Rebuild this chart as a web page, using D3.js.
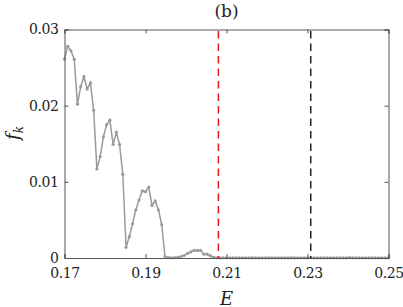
<!DOCTYPE html>
<html>
<head>
<meta charset="utf-8">
<script src="https://cdn.jsdelivr.net/npm/d3@7"></script>
<style>
	body { margin: 0; background: #fff; }
</style>
</head>
<body>
<div id="chart"></div>
<script>

// E grid (101 points, step 0.0008)
var E_start = 0.17, E_step = 0.0008;

// f_k values
var fk = [
	0.0261, 0.0278, 0.0272, 0.0261, 0.0202, 0.0225, 0.0238, 0.0222, 0.0230, 0.0194,
	0.0117, 0.0133, 0.0159, 0.0175, 0.0181, 0.0149, 0.0165, 0.0149, 0.0110, 0.0014,
	0.0028, 0.0045, 0.0063, 0.0076, 0.0088, 0.0087, 0.0093, 0.0069, 0.0075, 0.0063,
	0.0044, 0.0002, 0.00005, 0.00003, 0.00005, 0.0001, 0.0002, 0.00035, 0.0006, 0.0008,
	0.0010, 0.0010, 0.0010, 0.0005, 0.0005, 0.0003, 0.0001, 0.00003, 0.00002, 0.00003,
	0.00002, 0.00003, 0.00002, 0.00002, 0.00003, 0.00002, 0.00003, 0.00002, 0.00002, 0.00003,
	0.00002, 0.00002, 0.00003, 0.00002, 0.00002, 0.00003, 0.00002, 0.00002, 0.00003, 0.00002,
	0.00004, 0.00002, 0.00002, 0.00003, 0.00002, 0.00002, 0.00003, 0.00002, 0.00002, 0.00003,
	0.00002, 0.00002, 0.00003, 0.00002, 0.00002, 0.00003, 0.00002, 0.00002, 0.00005, 0.00003,
	0.00002, 0.00002, 0.00003, 0.00002, 0.00002, 0.00003, 0.00002, 0.00002, 0.00003, 0.00002,
	0.00002
];

// dashed markers
var vlines = [
	{ E: 0.2080, color: "#e8191c" },
	{ E: 0.2308, color: "#222222" }
];

var xTicks = [0.17, 0.19, 0.21, 0.23, 0.25];
var yTicks = [0, 0.01, 0.02, 0.03];
var yTickLabels = ["0", "0.01", "0.02", "0.03"];

var data = fk.map(function(v, i) { return { E: E_start + i * E_step, f: v }; });

var serif = "'DejaVu Serif', serif";

// chart options
var width = 403, height = 307,
	margin = { top: 29.5, left: 64.5, bottom: 49, right: 14.5 };

var x = d3.scaleLinear().domain([0.17, 0.25]).range([margin.left, width - margin.right]);
var y = d3.scaleLinear().domain([0, 0.03]).range([height - margin.bottom, margin.top]);

var svg = d3.select("#chart").append("svg")
	.attr("width", width)
	.attr("height", height);

// data line
var line = d3.line()
	.x(function(d) { return x(d.E); })
	.y(function(d) { return y(d.f); });

svg.append("path")
	.datum(data)
	.attr("fill", "none")
	.attr("stroke", "#9a9a9a")
	.attr("stroke-width", 1.5)
	.attr("d", line);

svg.append("g")
	.selectAll("circle")
	.data(data)
	.enter().append("circle")
		.attr("cx", function(d) { return x(d.E); })
		.attr("cy", function(d) { return y(d.f); })
		.attr("r", 1.6)
		.attr("fill", "#9a9a9a");

// vertical dashed lines
svg.append("g")
	.selectAll("line")
	.data(vlines)
	.enter().append("line")
		.attr("x1", function(d) { return x(d.E); })
		.attr("x2", function(d) { return x(d.E); })
		.attr("y1", y(0.03) + 1.5)
		.attr("y2", y(0))
		.attr("stroke", function(d) { return d.color; })
		.attr("stroke-width", 1.5)
		.attr("stroke-dasharray", "7.5,5");

// axes (box with ticks on all four sides)
var axisColor = "#555";
var xb = svg.append("g").attr("transform", "translate(0," + y(0) + ")")
	.call(d3.axisBottom(x).tickValues(xTicks).tickSize(-4).tickPadding(10).tickFormat(d3.format(".2f")));
var xt = svg.append("g").attr("transform", "translate(0," + y(0.03) + ")")
	.call(d3.axisTop(x).tickValues(xTicks).tickSize(-4).tickFormat(""));
var yl = svg.append("g").attr("transform", "translate(" + x(0.17) + ",0)")
	.call(d3.axisLeft(y).tickValues(yTicks).tickSize(-4).tickPadding(6)
		.tickFormat(function(d, i) { return yTickLabels[i]; }));
var yr = svg.append("g").attr("transform", "translate(" + x(0.25) + ",0)")
	.call(d3.axisRight(y).tickValues(yTicks).tickSize(-4).tickFormat(""));

[xb, xt, yl, yr].forEach(function(g) {
	g.attr("font-family", null);
	g.select(".domain").attr("stroke", axisColor).attr("stroke-width", 1);
	g.selectAll(".tick line").attr("stroke", axisColor);
	g.selectAll(".tick text")
		.style("font-family", serif)
		.style("font-size", "14px")
		.style("letter-spacing", "-0.4px")
		.attr("fill", "#222");
});

// labels
svg.append("text")
	.attr("x", (x(0.17) + x(0.25)) / 2)
	.attr("y", 16.5)
	.attr("text-anchor", "middle")
	.style("font-family", serif)
	.style("font-size", "17px")
	.attr("fill", "#222")
	.text("(b)");

svg.append("text")
	.attr("x", (x(0.17) + x(0.25)) / 2)
	.attr("y", 304.5)
	.attr("text-anchor", "middle")
	.style("font-family", serif)
	.style("font-size", "18px")
	.style("font-style", "italic")
	.attr("fill", "#222")
	.text("E");

var ylab = svg.append("text")
	.attr("transform", "translate(19,133) rotate(-90)")
	.attr("text-anchor", "middle")
	.style("font-family", serif)
	.style("font-size", "18px")
	.style("font-style", "italic")
	.attr("fill", "#222");
ylab.append("tspan").text("f");
ylab.append("tspan").style("font-size", "12px").attr("dy", 4).text("k");

</script>
</body>
</html>
